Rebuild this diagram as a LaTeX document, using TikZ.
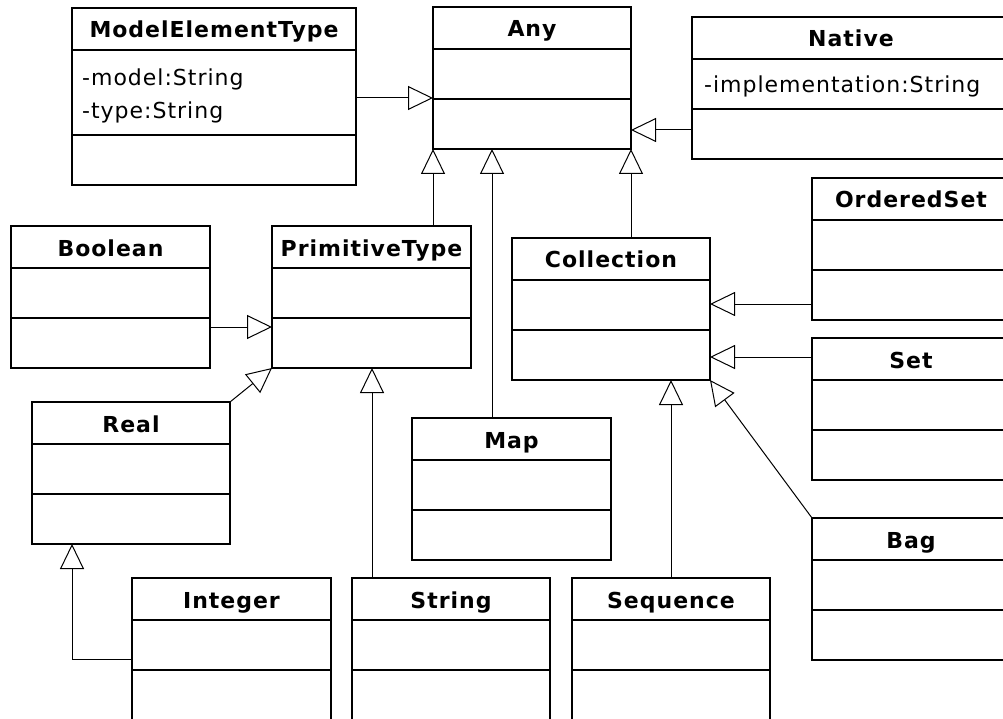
\documentclass[tikz,border=0pt]{standalone}
\usepackage{fontspec}
\setmainfont{DejaVu Sans}[LetterSpace=4.5]
\usetikzlibrary{calc}
\usetikzlibrary{arrows.meta}
\tikzset{
 umlclass/.style={draw, line width=1.2pt, inner sep=0, outer sep=0, anchor=north west},
 umltitle/.style={font=\fontsize{22}{26}\selectfont\bfseries, anchor=base, inner sep=0},
 umlattr/.style={font=\fontsize{22}{26}\selectfont, anchor=base west, inner sep=0},
 inherits/.style={line width=1pt, -{Triangle[open, length=25pt, width=24pt]}}
}
\begin{document}
\begin{tikzpicture}[x=1pt, y=-1pt]
\useasboundingbox (0,0) rectangle (1003,719);
\clip (0,0) rectangle (1003,719);
\fill[white] (0,0) rectangle (1003,719);
\foreach \nm/\px/\py/\w/\ah/\ttl [evaluate=\w as \hw using \w/2, evaluate=\ah as \hh using 92+\ah] in {%
 met/72/8/284/85/ModelElementType, any/433/7/198/50/Any, native/692/17/318/50/Native,%
 bool/11/226/199/50/Boolean, prim/272/226/199/50/PrimitiveType, coll/512/238/198/50/Collection,%
 oset/812/178/198/50/OrderedSet, set/812/338/198/50/Set, real/32/402/198/50/Real,%
 map/412/418/199/50/Map, bag/812/518/198/50/Bag, int/132/578/199/50/Integer,%
 str/352/578/198/50/String, seq/572/578/198/50/Sequence} {
 \node[umlclass, minimum width=\w pt, minimum height=\hh pt] (\nm) at (\px,\py) {};
 \draw[line width=1.2pt] ($(\nm.north west)+(0,42)$) --++(\w,0);
 \draw[line width=1.2pt] ($(\nm.north west)+(0,42+\ah)$) --++(\w,0);
 \node[umltitle] (\nm-t) at ($(\nm.north west)+(\hw,30)$) {\ttl};
}
\node[umlattr] (met-a1) at ($(met.north west)+(10,78)$) {-model:String};
\node[umlattr] (met-a2) at ($(met.north west)+(10,111)$) {-type:String};
\node[umlattr] (native-a1) at ($(native.north west)+(12,76)$) {-implementation:String};
\draw[inherits] ($(met.north east)+(0,90)$) -- ($(met.north east -| any.west)+(0,90)$);
\draw[inherits] ($(native.north west)+(0,113)$) -- ($(native.north west -| any.east)+(0,113)$);
\draw[inherits] (any.south west |- prim.north) -- (any.south west);
\draw[inherits] ($(map.north west)+(80,0)$) -- ($(map.north west |- any.south)+(80,0)$);
\draw[inherits] (any.south east |- coll.north) -- (any.south east);
\draw[inherits] ($(bool.north east)+(0,101)$) -- ($(bool.north east -| prim.west)+(0,101)$);
\draw[inherits] (real.north east) -- (prim.south west);
\draw[inherits] ($(str.north west)+(20,0)$) -- ($(str.north west |- prim.south)+(20,0)$);
\draw[inherits] ($(int.north west)+(0,81)$) -| ($(real.south west)+(40,0)$);
\draw[inherits] ($(oset.north west)+(0,126)$) -- ($(oset.north west -| coll.east)+(0,126)$);
\draw[inherits] ($(set.north west)+(0,19)$) -- ($(set.north west -| coll.east)+(0,19)$);
\draw[inherits] (bag.north west) -- (coll.south east);
\draw[inherits] (seq.north) -- (seq.north |- coll.south);
\end{tikzpicture}
\end{document}
